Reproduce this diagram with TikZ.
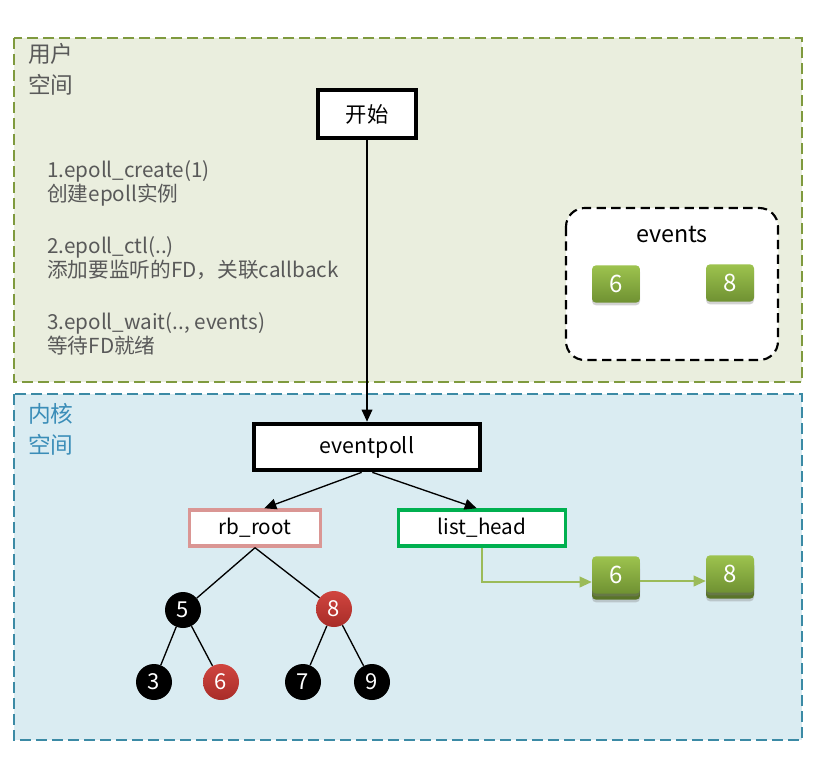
\documentclass[tikz,border=0pt]{standalone}
\usepackage{fontspec}
\setmainfont{Noto Sans CJK SC}
\usetikzlibrary{arrows.meta,shadows}
\definecolor{userfill}{HTML}{EAEEDE}
\definecolor{userline}{HTML}{7F9A3E}
\definecolor{kernfill}{HTML}{DAECF2}
\definecolor{kernline}{HTML}{3B8AA5}
\definecolor{kerntext}{HTML}{3A8DB8}
\definecolor{graytext}{HTML}{595959}
\definecolor{pinkline}{HTML}{DA9694}
\definecolor{greenline}{HTML}{00B050}
\definecolor{gtop}{HTML}{9DC34E}
\definecolor{gbot}{HTML}{6F9132}
\definecolor{redtop}{HTML}{D0453F}
\definecolor{redbot}{HTML}{A82C28}
\definecolor{linkline}{HTML}{9BBB59}
\tikzset{
  area/.style={draw, dashed, dash pattern=on 8pt off 4pt, line width=1.5pt},
  thickbox/.style={draw=black, line width=3pt, fill=white, font=\fontsize{16}{18}\selectfont, inner sep=0pt},
  colbox/.style={line width=2.6pt, fill=white, font=\fontsize{15.5}{17}\selectfont, inner sep=0pt, minimum height=27pt},
  gbox/.style={rounded corners=3pt, top color=gtop, bottom color=gbot, draw=none, text=white,
     minimum width=36pt, minimum height=28pt, inner sep=0pt, font=\fontsize{18}{18}\selectfont,
     drop shadow={shadow xshift=0pt, shadow yshift=-2pt, opacity=0.35}},
  bnode/.style={circle, fill=black, text=white, minimum size=27pt, inner sep=0pt, font=\fontsize{16.5}{17}\selectfont},
  rnode/.style={circle, top color=redtop, bottom color=redbot, text=white, minimum size=27pt, inner sep=0pt, font=\fontsize{16.5}{17}\selectfont},
  edge/.style={draw=black, line width=1pt},
  arr/.style={draw=black, line width=1pt, -{Triangle[length=9pt,width=8pt]}},
  garr/.style={draw=linkline, line width=1.2pt, -{Triangle[length=9pt,width=8pt]}},
  lbl/.style={text=graytext, anchor=north west, align=left, font=\fontsize{15.5}{18}\selectfont, inner sep=0pt}
}
\begin{document}
\begin{tikzpicture}[x=0.75pt,y=-0.75pt]
\useasboundingbox (0,0) rectangle (820,761);
% areas
\draw[area, draw=userline, fill=userfill] (14,38) rectangle (802,382);
\draw[area, draw=kernline, fill=kernfill] (14,394) rectangle (802,740);
\node[lbl, font=\fontsize{17}{23}\selectfont] (ulabel) at (28,43) {用户\\空间};
\node[lbl, text=kerntext, font=\fontsize{17}{23}\selectfont] (klabel) at (28,403) {内核\\空间};
% steps text
\node[lbl] (s1) at (47,160) {1.epoll\_create(1)\\创建epoll实例};
\node[lbl] (s2) at (47,236) {2.epoll\_ctl(..)\\添加要监听的FD，关联callback};
\node[lbl] (s3) at (47,312) {3.epoll\_wait(.., events)\\等待FD就绪};
% events box
\draw[dashed, dash pattern=on 7pt off 4pt, line width=1.6pt, rounded corners=14pt, fill=white] (566,208) rectangle (778,360);
\node[font=\fontsize{17.5}{18}\selectfont] (evlabel) at (672,235) {events};
\node[gbox] (e6) at (616,284) {6};
\node[gbox] (e8) at (730,283) {8};
% main boxes
\node[thickbox, minimum width=74pt, minimum height=36pt] (start) at (367,114) {开始};
\node[thickbox, minimum width=169pt, minimum height=35pt] (ep) at (367,447) {eventpoll};
\node[colbox, draw=pinkline, minimum width=98pt] (rb) at (255,528) {rb\_root};
\node[colbox, draw=greenline, minimum width=125pt] (lh) at (482,528) {list\_head};
\draw[arr] (start.south) -- (start.south |- ep.north);
\draw[arr] ([xshift=-4pt]ep.south) -- ([xshift=7pt]rb.north);
\draw[arr] ([xshift=4pt]ep.south) -- ([xshift=-4pt]lh.north);
% linked list
\node[gbox, top color=gbot!80!black, bottom color=gbot!80!black] (l6b) at (616,581) {};
\node[gbox] (l6) at (616,575) {6};
\node[gbox, top color=gbot!80!black, bottom color=gbot!80!black] (l8b) at (730,580) {};
\node[gbox] (l8) at (730,574) {8};
\draw[garr] (lh.south) |- (l6.west |- 0,582);
\draw[garr] (l6.east |- 0,581) -- (l8.west |- 0,581);
% tree
\node[bnode] (n5) at (183,610) {5};
\node[rnode] (n8) at (334,609) {8};
\node[bnode] (n3) at (154,682) {3};
\node[rnode] (n6) at (221,682) {6};
\node[bnode] (n7) at (303,682) {7};
\node[bnode] (n9) at (372,682) {9};
\draw[edge] (rb.south) -- (n5);
\draw[edge] (rb.south) -- (n8);
\draw[edge] (n5) -- (n3);
\draw[edge] (n5) -- (n6);
\draw[edge] (n8) -- (n7);
\draw[edge] (n8) -- (n9);
\end{tikzpicture}
\end{document}
